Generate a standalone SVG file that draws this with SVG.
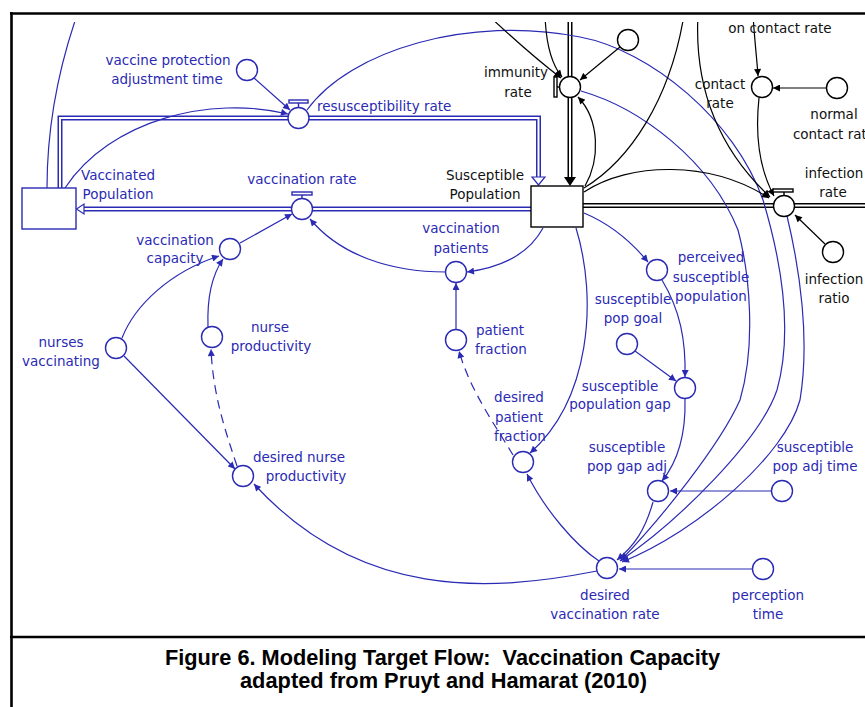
<svg xmlns="http://www.w3.org/2000/svg" width="865" height="707" viewBox="0 0 865 707">
  <defs>
    <style>
      .lb { fill: none; stroke: #2a2ab4; stroke-width: 1.2; }
      .lk { fill: none; stroke: #000; stroke-width: 1.2; }
      .dash { stroke-dasharray: 9 6; }
      .nb { fill: #fff; stroke: #2a2ab4; stroke-width: 1.4; }
      .nk { fill: #fff; stroke: #000; stroke-width: 1.4; }
      .tb { font-family: "DejaVu Sans", "Liberation Sans", sans-serif; font-size: 13.5px; fill: #2a2ab4; text-anchor: middle; }
      .tk { font-family: "DejaVu Sans", "Liberation Sans", sans-serif; font-size: 13.5px; fill: #111; text-anchor: middle; }
      .pipe-b-out { fill: none; stroke: #2a2ab4; stroke-width: 5; }
      .pipe-k-out { fill: none; stroke: #000; stroke-width: 5; }
      .pipe-in { fill: none; stroke: #fff; stroke-width: 2; }
      .cap { font-family: "Liberation Sans Narrow", "Liberation Sans", Arial, sans-serif; font-weight: bold; font-size: 22px; fill: #000; text-anchor: middle; white-space: pre; }
    </style>
    <marker id="ab" viewBox="0 0 10 10" refX="10" refY="5" markerWidth="8" markerHeight="7" markerUnits="userSpaceOnUse" orient="auto">
      <path d="M0,0 L10,5 L0,10 z" fill="#2a2ab4"/>
    </marker>
    <marker id="ak" viewBox="0 0 10 10" refX="10" refY="5" markerWidth="8" markerHeight="7" markerUnits="userSpaceOnUse" orient="auto">
      <path d="M0,0 L10,5 L0,10 z" fill="#000"/>
    </marker>
    <clipPath id="area">
      <rect x="13" y="22" width="852" height="613"/>
    </clipPath>
  </defs>

  <rect x="0" y="0" width="865" height="707" fill="#fff"/>

  <!-- frame -->
  <g id="frame" stroke="#000" stroke-width="2.6" fill="none">
    <line x1="10" y1="13.5" x2="865" y2="13.5"/>
    <line x1="11.5" y1="12" x2="11.5" y2="707"/>
    <line x1="10" y1="637" x2="865" y2="637"/>
  </g>

  <g clip-path="url(#area)">
    <!-- stock and flow pipes -->
    <g id="flows">
      <path class="pipe-b-out" d="M60,188 L60,118 L538.5,118 L538.5,177"/>
      <path class="pipe-in" d="M60,188 L60,118 L538.5,118 L538.5,177"/>
      <path d="M532,177 L545,177 L538.5,185 z" fill="#fff" stroke="#2a2ab4" stroke-width="1.2"/>
      <path class="pipe-b-out" d="M531,209 L84,209"/>
      <path class="pipe-in" d="M531,209 L84,209"/>
      <path d="M84,204 L84,214 L76.5,209 z" fill="#fff" stroke="#2a2ab4" stroke-width="1.2"/>
      <path class="pipe-k-out" d="M570,15 L570,177"/>
      <path class="pipe-in" d="M570,15 L570,177"/>
      <path d="M564,177 L576,177 L570,186 z" fill="#000"/>
      <path class="pipe-k-out" d="M583,205.5 L870,205.5"/>
      <path class="pipe-in" d="M583,205.5 L870,205.5"/>
    </g>

    <!-- causal links -->
    <g id="connectors">
      <path class="lb" d="M254,78 L290,110" marker-end="url(#ab)"/>
      <path class="lb" d="M65,188 C110,120 210,95 288,114" marker-end="url(#ab)"/>
      <path class="lb" d="M47,188 C47,130 58,70 77,15"/>
      <path class="lb" d="M240,243 L292,214" marker-end="url(#ab)"/>
      <path class="lb" d="M122,338 C135,305 170,272 219,256" marker-end="url(#ab)"/>
      <path class="lb" d="M208,327 C207,300 212,275 223,259" marker-end="url(#ab)"/>
      <path class="lb" d="M124,356 L235,469" marker-end="url(#ab)"/>
      <path class="lb dash" d="M237,466 C225,430 213,395 211,349" marker-end="url(#ab)"/>
      <path class="lb" d="M446,272 C390,272 340,255 310,219" marker-end="url(#ab)"/>
      <path class="lb" d="M543,228 C530,252 505,267 467,272" marker-end="url(#ab)"/>
      <path class="lb" d="M456,329 L456,283" marker-end="url(#ab)"/>
      <path class="lb dash" d="M513,455 C495,425 470,390 459,351" marker-end="url(#ab)"/>
      <path class="lb" d="M576,228 C598,300 590,400 530,453" marker-end="url(#ab)"/>
      <path class="lb" d="M584,213 Q620,228 648,262" marker-end="url(#ab)"/>
      <path class="lb" d="M662,280 C680,310 686,340 685,377" marker-end="url(#ab)"/>
      <path class="lb" d="M635,351 L676,381" marker-end="url(#ab)"/>
      <path class="lb" d="M685,399 C686,440 675,465 662,481" marker-end="url(#ab)"/>
      <path class="lb" d="M771,491 L670,491" marker-end="url(#ab)"/>
      <path class="lb" d="M653,502 C645,530 635,545 617,560" marker-end="url(#ab)"/>
      <path class="lb" d="M752,569 L619,569" marker-end="url(#ab)"/>
      <path class="lb" d="M599,561 C575,545 545,510 527,474" marker-end="url(#ab)"/>
      <path class="lb" d="M597,571 C490,592 360,600 254,484" marker-end="url(#ab)"/>
      <!-- long arcs into desired vaccination rate -->
      <path class="lb" d="M307,110 C350,50 470,15 580,37 C650,50 735,120 763,200 C778,250 795,325 777,390 C760,440 680,520 620,561" marker-end="url(#ab)"/>
      <path class="lb" d="M581,91 C640,108 710,160 738,230 C750,275 756,345 740,400 C720,445 660,520 621,560" marker-end="url(#ab)"/>
      <path class="lb" d="M787,216 C800,270 810,340 800,400 C785,455 700,530 622,562" marker-end="url(#ab)"/>

      <!-- black links -->
      <path class="lk" d="M620,47 L580,80" marker-end="url(#ak)"/>
      <path class="lk" d="M488,15 C520,45 540,62 561,78" marker-end="url(#ak)"/>
      <path class="lk" d="M545,15 C546,45 552,65 562,77" marker-end="url(#ak)"/>
      <path class="lk" d="M585,186 C600,160 600,120 578,97" marker-end="url(#ak)"/>
      <path class="lk" d="M584,188 C630,160 670,100 684,15"/>
      <path class="lk" d="M698,15 C694,90 720,150 770,197" marker-end="url(#ak)"/>
      <path class="lk" d="M753,15 C755,45 757,60 758,76" marker-end="url(#ak)"/>
      <path class="lk" d="M826,88 L773,88" marker-end="url(#ak)"/>
      <path class="lk" d="M759,98 C755,135 760,170 774,196" marker-end="url(#ak)"/>
      <path class="lk" d="M584,192 C630,162 710,160 769,198" marker-end="url(#ak)"/>
      <path class="lk" d="M825,244 L795,215" marker-end="url(#ak)"/>
    </g>

    <!-- stocks -->
    <g id="vaccinated-population">
      <rect x="22" y="188" width="54" height="41" class="nb"/>
      <text class="tb" x="118" y="180">Vaccinated</text>
      <text class="tb" x="118" y="199">Population</text>
    </g>
    <g id="susceptible-population">
      <rect x="531" y="186" width="52" height="41" class="nk"/>
      <text class="tk" x="485" y="180">Susceptible</text>
      <text class="tk" x="485" y="199">Population</text>
    </g>

    <!-- rates -->
    <g id="resusceptibility-rate">
      <rect x="289" y="100" width="19" height="3" class="nb"/>
      <line x1="298.5" y1="103" x2="298.5" y2="107.5" stroke="#2a2ab4" stroke-width="1.4"/>
      <circle cx="298.5" cy="118" r="10.5" class="nb"/>
      <text class="tb" x="317" y="111" style="text-anchor:start">resusceptibility rate</text>
    </g>
    <g id="vaccination-rate">
      <rect x="292" y="192" width="20" height="3" class="nb"/>
      <line x1="302" y1="195" x2="302" y2="198.5" stroke="#2a2ab4" stroke-width="1.4"/>
      <circle cx="302" cy="209" r="10.5" class="nb"/>
      <text class="tb" x="302" y="184">vaccination rate</text>
    </g>
    <g id="immunity-rate">
      <rect x="554" y="77" width="3" height="20" class="nk"/>
      <line x1="557" y1="87" x2="559.5" y2="87" stroke="#000" stroke-width="1.4"/>
      <circle cx="570" cy="87" r="10.5" class="nk"/>
      <text class="tk" x="516" y="77">immunity</text>
      <text class="tk" x="518" y="97">rate</text>
    </g>
    <g id="infection-rate">
      <rect x="773" y="189" width="20" height="3" class="nk"/>
      <line x1="784" y1="192" x2="784" y2="195.5" stroke="#000" stroke-width="1.4"/>
      <circle cx="784" cy="206" r="10.5" class="nk"/>
      <text class="tk" x="834" y="178">infection</text>
      <text class="tk" x="833" y="197">rate</text>
    </g>

    <!-- auxiliaries -->
    <g id="vaccine-protection-adjustment-time">
      <circle cx="247" cy="70" r="10.5" class="nb"/>
      <text class="tb" x="168" y="65">vaccine protection</text>
      <text class="tb" x="167" y="84">adjustment time</text>
    </g>
    <g id="vaccination-capacity">
      <circle cx="230" cy="249" r="10.5" class="nb"/>
      <text class="tb" x="175" y="245">vaccination</text>
      <text class="tb" x="175" y="263">capacity</text>
    </g>
    <g id="nurses-vaccinating">
      <circle cx="116" cy="348" r="10.5" class="nb"/>
      <text class="tb" x="61" y="347">nurses</text>
      <text class="tb" x="61" y="366">vaccinating</text>
    </g>
    <g id="nurse-productivity">
      <circle cx="212" cy="337" r="10.5" class="nb"/>
      <text class="tb" x="270" y="332">nurse</text>
      <text class="tb" x="271" y="351">productivity</text>
    </g>
    <g id="desired-nurse-productivity">
      <circle cx="243" cy="476" r="10.5" class="nb"/>
      <text class="tb" x="299" y="462">desired nurse</text>
      <text class="tb" x="306" y="481">productivity</text>
    </g>
    <g id="vaccination-patients">
      <circle cx="456" cy="272" r="10.5" class="nb"/>
      <text class="tb" x="461" y="233">vaccination</text>
      <text class="tb" x="461" y="253">patients</text>
    </g>
    <g id="patient-fraction">
      <circle cx="456" cy="340" r="10.5" class="nb"/>
      <text class="tb" x="500" y="335">patient</text>
      <text class="tb" x="501" y="354">fraction</text>
    </g>
    <g id="desired-patient-fraction">
      <circle cx="523" cy="462" r="10.5" class="nb"/>
      <text class="tb" x="519" y="402">desired</text>
      <text class="tb" x="519" y="422">patient</text>
      <text class="tb" x="520" y="441">fraction</text>
    </g>
    <g id="perceived-susceptible-population">
      <circle cx="657" cy="270" r="10.5" class="nb"/>
      <text class="tb" x="711" y="262">perceived</text>
      <text class="tb" x="711" y="282">susceptible</text>
      <text class="tb" x="711" y="301">population</text>
    </g>
    <g id="susceptible-pop-goal">
      <circle cx="627" cy="344" r="10.5" class="nb"/>
      <text class="tb" x="633" y="304">susceptible</text>
      <text class="tb" x="633" y="323">pop goal</text>
    </g>
    <g id="susceptible-population-gap">
      <circle cx="685" cy="388" r="10.5" class="nb"/>
      <text class="tb" x="620" y="391">susceptible</text>
      <text class="tb" x="620" y="409">population gap</text>
    </g>
    <g id="susceptible-pop-gap-adj">
      <circle cx="658" cy="491" r="10.5" class="nb"/>
      <text class="tb" x="627" y="452">susceptible</text>
      <text class="tb" x="627" y="471">pop gap adj</text>
    </g>
    <g id="susceptible-pop-adj-time">
      <circle cx="782" cy="491" r="10.5" class="nb"/>
      <text class="tb" x="815" y="452">susceptible</text>
      <text class="tb" x="815" y="471">pop adj time</text>
    </g>
    <g id="desired-vaccination-rate">
      <circle cx="607" cy="568" r="10.5" class="nb"/>
      <text class="tb" x="605" y="600">desired</text>
      <text class="tb" x="605" y="619">vaccination rate</text>
    </g>
    <g id="perception-time">
      <circle cx="763" cy="569" r="10.5" class="nb"/>
      <text class="tb" x="768" y="600">perception</text>
      <text class="tb" x="768" y="619">time</text>
    </g>
    <g id="immunity-input">
      <circle cx="628" cy="40" r="10.5" class="nk"/>
    </g>
    <g id="contact-rate">
      <circle cx="762" cy="87" r="10.5" class="nk"/>
      <text class="tk" x="720" y="89">contact</text>
      <text class="tk" x="720" y="108">rate</text>
    </g>
    <g id="on-contact-rate">
      <text class="tk" x="780" y="33">on contact rate</text>
    </g>
    <g id="normal-contact-rate">
      <circle cx="837" cy="88" r="10.5" class="nk"/>
      <text class="tk" x="834" y="119">normal</text>
      <text class="tk" x="834" y="139">contact rate</text>
    </g>
    <g id="infection-ratio">
      <circle cx="833" cy="252" r="10.5" class="nk"/>
      <text class="tk" x="834" y="284">infection</text>
      <text class="tk" x="834" y="303">ratio</text>
    </g>
  </g>

  <!-- caption -->
  <g id="caption">
    <text class="cap" x="442.5" y="665" textLength="555" lengthAdjust="spacingAndGlyphs">Figure 6. Modeling Target Flow:  Vaccination Capacity</text>
    <text class="cap" x="443.5" y="688" textLength="407" lengthAdjust="spacingAndGlyphs">adapted from Pruyt and Hamarat (2010)</text>
  </g>
</svg>
